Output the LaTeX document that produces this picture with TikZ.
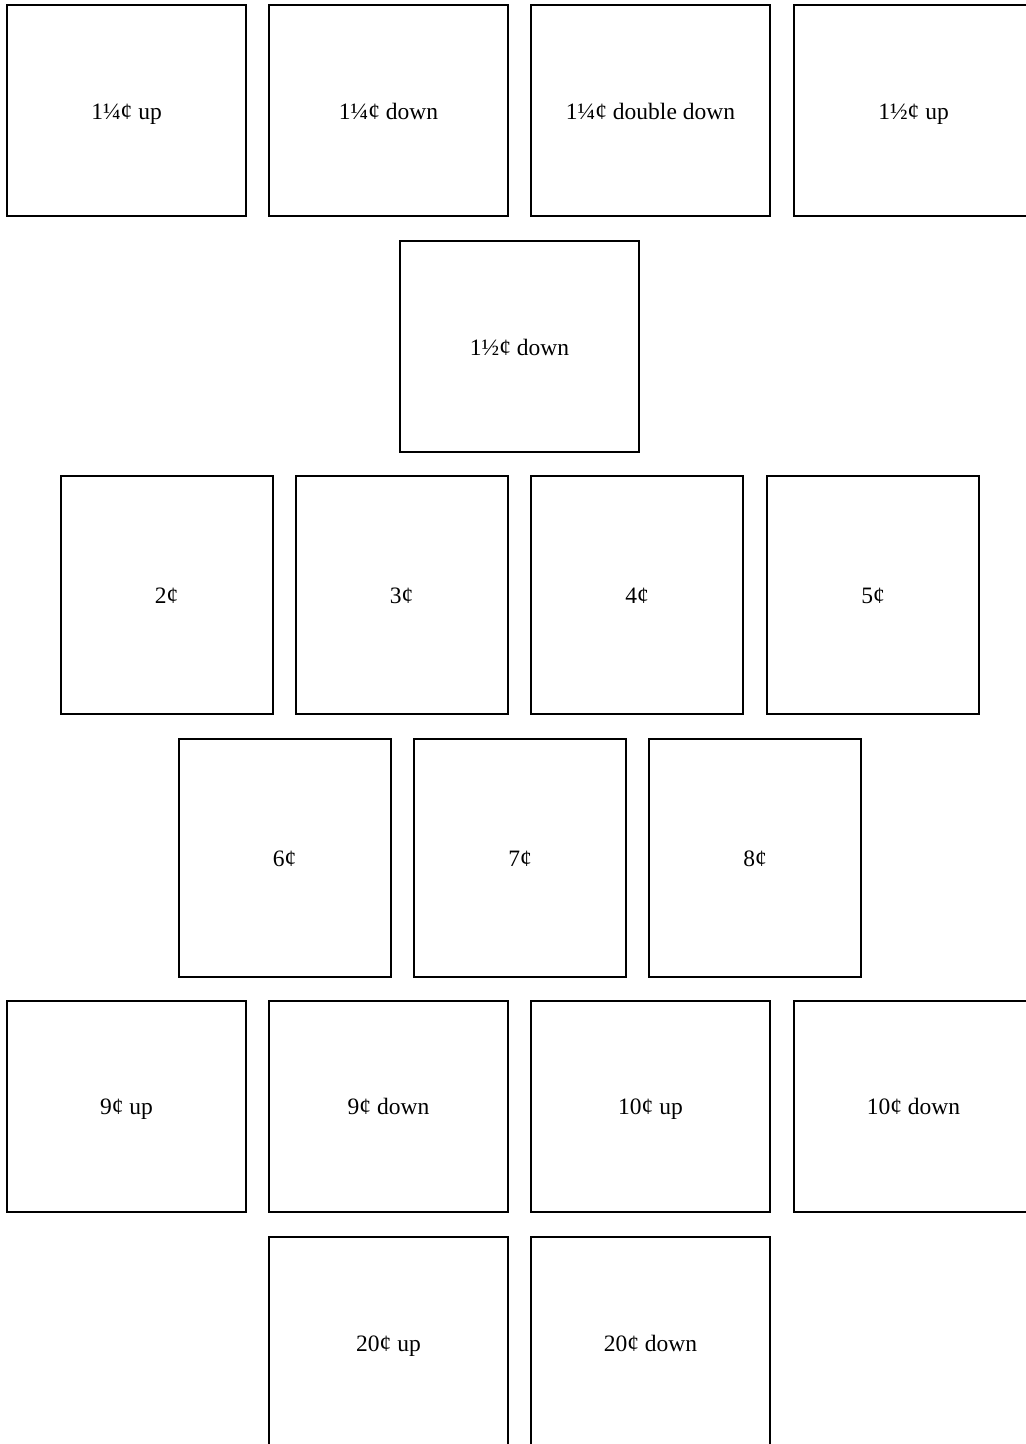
\documentclass[tikz,border=0pt]{standalone}
\usepackage{fontspec}
\setmainfont{Liberation Serif}
\begin{document}
\begin{tikzpicture}[x=1pt,y=-1pt,
  coin/.style={draw=black, line width=2pt, rectangle, inner sep=0pt, text height=20pt, text depth=3pt, font=\fontsize{23.5}{28}\selectfont},
  wide/.style={coin, minimum width=239pt, minimum height=211pt},
  tall/.style={coin, minimum width=212pt, minimum height=238pt}]
\useasboundingbox (0,0) rectangle (1026,1444);
% row 1
\node[wide] (a1) at (126.5,110.5) {1¼¢ up};
\node[wide] (a2) at (388.5,110.5) {1¼¢ down};
\node[wide] (a3) at (650.5,110.5) {1¼¢ double down};
\node[wide] (a4) at (913.5,110.5) {1½¢ up};
% row 2
\node[wide] (b1) at (519.5,346.5) {1½¢ down};
% row 3
\node[tall] (c1) at (166.5,595) {2¢};
\node[tall] (c2) at (401.5,595) {3¢};
\node[tall] (c3) at (637,595) {4¢};
\node[tall] (c4) at (873,595) {5¢};
% row 4
\node[tall] (d1) at (284.5,857.5) {6¢};
\node[tall] (d2) at (520,857.5) {7¢};
\node[tall] (d3) at (755,857.5) {8¢};
% row 5
\node[wide] (e1) at (126.5,1106) {9¢ up};
\node[wide] (e2) at (388.5,1106) {9¢ down};
\node[wide] (e3) at (650.5,1106) {10¢ up};
\node[wide] (e4) at (913.5,1106) {10¢ down};
% row 6
\node[wide] (f1) at (388.5,1342.5) {20¢ up};
\node[wide] (f2) at (650.5,1342.5) {20¢ down};
\end{tikzpicture}
\end{document}
